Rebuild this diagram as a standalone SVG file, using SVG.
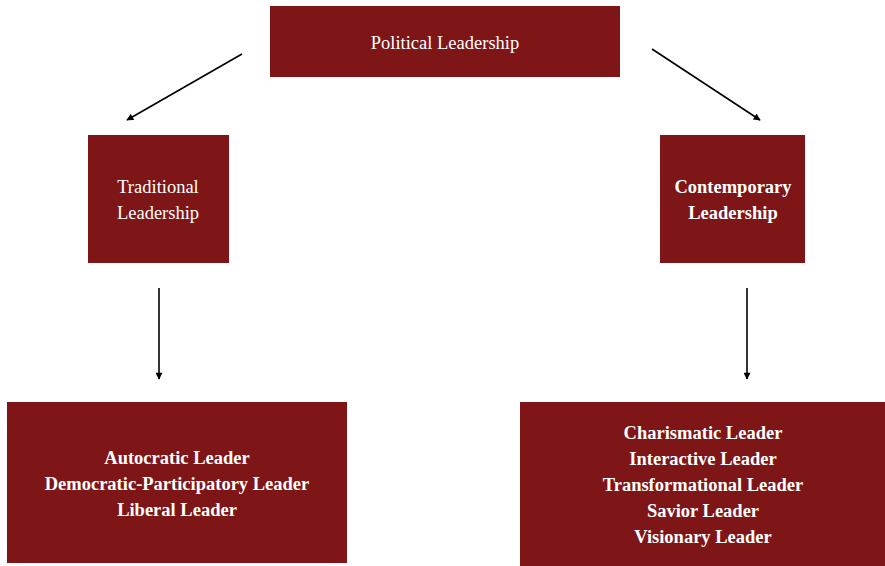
<svg xmlns="http://www.w3.org/2000/svg" width="885" height="566" viewBox="0 0 885 566">
<style>
.box{fill:#7e1517;}
.t{font-family:"Liberation Serif","Times New Roman",serif;font-size:18.5px;fill:#ffffff;text-anchor:middle;}
.b{font-weight:bold;}
.c{stroke:#000;stroke-width:1.6;fill:none;marker-end:url(#ah);}
</style>
<defs>
<marker id="ah" viewBox="0 0 10 10" refX="9" refY="5" markerWidth="8" markerHeight="7" orient="auto" markerUnits="userSpaceOnUse">
<path d="M0,0 L10,5 L0,10 z" fill="#000"/>
</marker>
</defs>
<rect width="885" height="566" fill="#ffffff"/>
<g id="political">
<rect class="box" x="270" y="6" width="350" height="71"/>
<text class="t" x="445" y="49">Political Leadership</text>
</g>
<g id="traditional">
<rect class="box" x="88" y="135" width="141" height="128"/>
<text class="t" x="158" y="193">Traditional</text>
<text class="t" x="158" y="219">Leadership</text>
</g>
<g id="contemporary">
<rect class="box" x="660" y="135" width="145" height="128"/>
<text class="t b" x="733" y="193" font-size="17.5">Contemporary</text>
<text class="t b" x="733" y="219" font-size="17.5">Leadership</text>
</g>
<g id="traditional-types">
<rect class="box" x="7" y="402" width="340" height="161"/>
<text class="t b" x="177" y="464">Autocratic Leader</text>
<text class="t b" x="177" y="490">Democratic-Participatory Leader</text>
<text class="t b" x="177" y="516">Liberal Leader</text>
</g>
<g id="contemporary-types">
<rect class="box" x="520" y="402" width="365" height="164"/>
<text class="t b" x="703" y="439">Charismatic Leader</text>
<text class="t b" x="703" y="465">Interactive Leader</text>
<text class="t b" x="703" y="491">Transformational Leader</text>
<text class="t b" x="703" y="517">Savior Leader</text>
<text class="t b" x="703" y="543">Visionary Leader</text>
</g>
<g id="connectors">
<line class="c" x1="242" y1="54" x2="127" y2="120"/>
<line class="c" x1="652" y1="49" x2="760" y2="120"/>
<line class="c" x1="159" y1="288" x2="159" y2="379"/>
<line class="c" x1="747" y1="288" x2="747" y2="379"/>
</g>
</svg>
